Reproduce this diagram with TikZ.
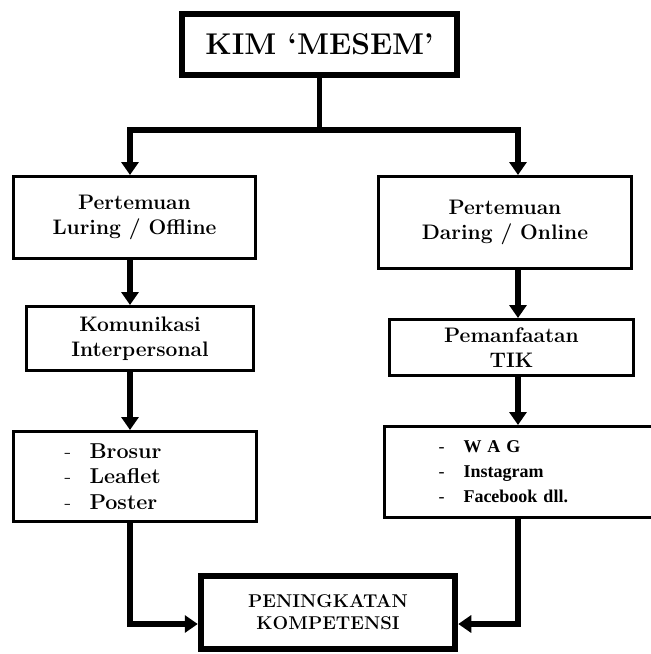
\documentclass[tikz,border=0pt]{standalone}
\usepackage{fontspec}
\newfontfamily\timesfont{Liberation Serif}
\usetikzlibrary{arrows.meta,positioning}

\begin{document}
\begin{tikzpicture}[x=1pt, y=-1pt,
    box/.style={draw, line width=3pt, align=center, inner sep=0pt,
      font=\bfseries\fontsize{21}{25}\selectfont},
    heavybox/.style={box, line width=6pt},
    listbox/.style={draw, line width=3pt, align=left, inner ysep=0pt},
    link/.style={line width=5.5pt, -{Triangle[width=17pt,length=13pt]}}]
    \useasboundingbox (0,0) rectangle (651,654);
    \clip (0,0) rectangle (651,654);
    % heads
    \node[heavybox, minimum width=275pt, minimum height=61pt, font=\bfseries\fontsize{30}{32}\selectfont] (kim) at (319.5,44) {KIM `MESEM'};
    \node[box, minimum width=242pt, minimum height=82pt] (luring) at (134.5,217.5) {Pertemuan\\Luring / Offline};
    \node[box, minimum width=253pt, minimum height=92pt] (daring) at (505,222.5) {Pertemuan\\Daring / Online};
    \node[box, minimum width=227pt, minimum height=64pt] (komunikasi) at (140,338.5) {Komunikasi\\Interpersonal};
    \node[box, minimum width=244pt, minimum height=56pt] (tik) at (511.5,347.5) {Pemanfaatan\\TIK};
    % media lists
    \node[listbox, inner xsep=51pt, text width=141pt, minimum height=90pt, font=\bfseries\fontsize{21.5}{25.5}\selectfont] (media) at (135,476.5)
      {\makebox[25pt][l]{\mdseries -}Brosur\\\makebox[25pt][l]{\mdseries -}Leaflet\\\makebox[25pt][l]{\mdseries -}Poster};
    \node[listbox, inner xsep=54pt, text width=171pt, minimum height=91pt, font=\timesfont\bfseries\fontsize{18}{25}\selectfont] (sosmed) at (524,472)
      {\makebox[25pt][l]{\mdseries -}W A G\\\makebox[25pt][l]{\mdseries -}Instagram\\\makebox[25pt][l]{\mdseries -}Facebook dll.};
    \node[heavybox, line width=6.5pt, minimum width=254pt, minimum height=73pt, font=\bfseries\fontsize{18.5}{22}\selectfont] (kompetensi) at (328,612.5) {PENINGKATAN\\KOMPETENSI};
    % columns of the connectors
    \coordinate (lc) at (130,0);
    \coordinate (rc) at (518,0);
    \coordinate (fork) at (0,130);
    \coordinate (join) at (0,624);
    \draw[link] (kim.south) -- (kim.south |- fork) -| (luring.north -| lc);
    \draw[link] (kim.south |- fork) -| (daring.north -| rc);
    \draw[link] (luring.south -| lc) -- (komunikasi.north -| lc);
    \draw[link] (komunikasi.south -| lc) -- (media.north -| lc);
    \draw[link] (daring.south -| rc) -- (tik.north -| rc);
    \draw[link] (tik.south -| rc) -- (sosmed.north -| rc);
    \draw[link] (media.south -| lc) |- (kompetensi.west |- join);
    \draw[link] (sosmed.south -| rc) |- (kompetensi.east |- join);
\end{tikzpicture}
\end{document}
